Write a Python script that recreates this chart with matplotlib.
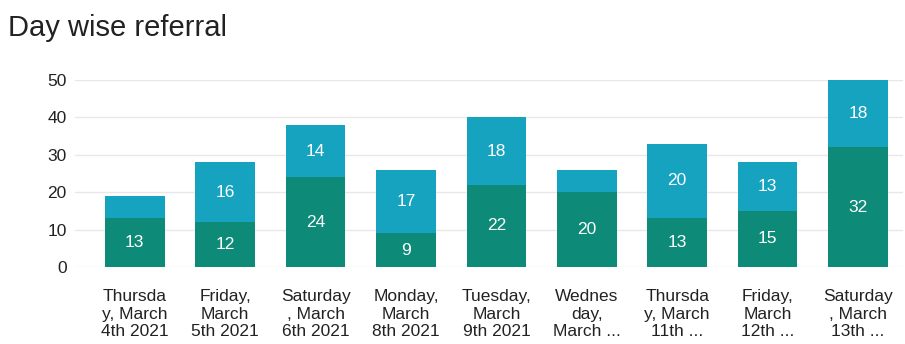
import numpy as np
import matplotlib.pyplot as plt

plt.rcParams['font.family'] = ['Liberation Sans', 'DejaVu Sans']

days = ['Thursda\ny, March\n4th 2021', 'Friday,\nMarch\n5th 2021', 'Saturday\n, March\n6th 2021',
        'Monday,\nMarch\n8th 2021', 'Tuesday,\nMarch\n9th 2021', 'Wednes\nday,\nMarch ...',
        'Thursda\ny, March\n11th ...', 'Friday,\nMarch\n12th ...', 'Saturday\n, March\n13th ...']
lower = [13, 12, 24, 9, 22, 20, 13, 15, 32]
upper = [6, 16, 14, 17, 18, 6, 20, 13, 18]
y_ticks = [0, 10, 20, 30, 40, 50]

dark = '#0d8a78'
light = '#15a3bf'

fig = plt.figure(figsize=(9.05, 3.44), dpi=100)
ax = fig.add_axes([0.083, 0.224, 0.915, 0.5436])

x = np.arange(len(days))
b1 = ax.bar(x, lower, width=0.66, color=dark, zorder=2, clip_on=False)
b2 = ax.bar(x, upper, width=0.66, bottom=lower, color=light, zorder=2, clip_on=False)

# small segments are left without a number
ax.bar_label(b1, labels=[str(v) if v >= 9 else '' for v in lower], label_type='center',
             color='white', fontsize=12.5)
ax.bar_label(b2, labels=[str(v) if v >= 9 else '' for v in upper], label_type='center',
             color='white', fontsize=12.5)

ax.set_xlim(-0.66, 8.5)
ax.set_ylim(0, 50)
ax.set_yticks(y_ticks)
ax.set_xticks(x)
ax.set_xticklabels(days, fontsize=12.5, color='#222222', linespacing=1.22)
ax.tick_params(axis='y', length=0, labelsize=12.5, labelcolor='#222222', pad=6)
ax.tick_params(axis='x', length=0, pad=16)
ax.grid(axis='y', color='#e8e8e8', linewidth=1, zorder=0)
for s in ax.spines.values():
    s.set_visible(False)

fig.text(0.009, 0.92, 'Day wise referral', fontsize=21, color='#222222', va='center')

fig.savefig('out.png', dpi=100)
